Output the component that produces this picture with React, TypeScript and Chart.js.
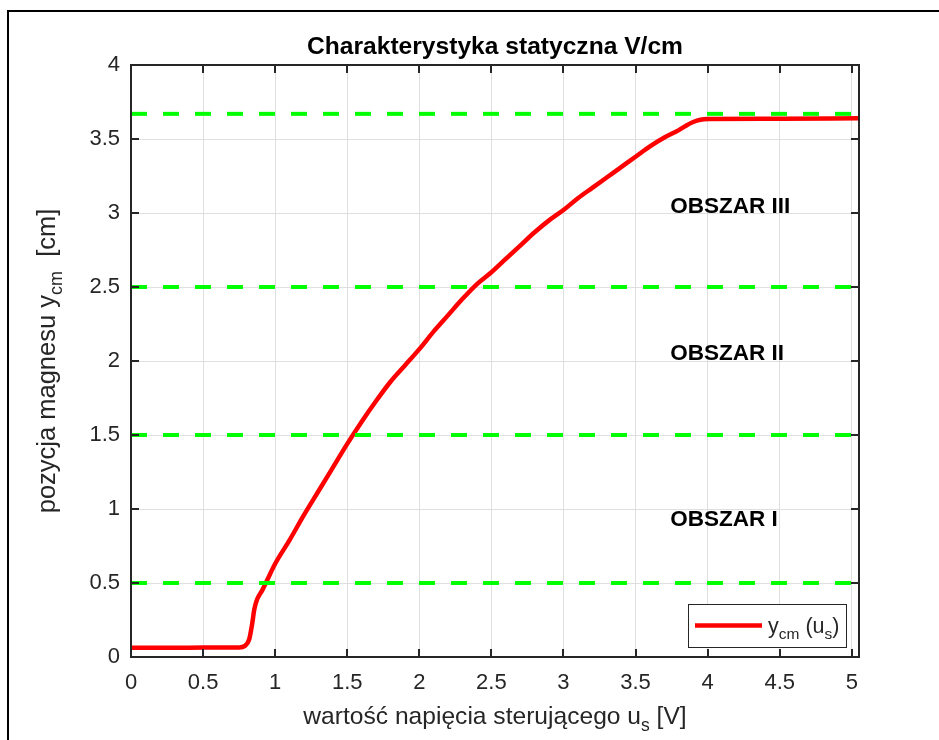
import { useEffect, useRef } from "react";
import { Chart, registerables } from "chart.js";

Chart.register(...registerables);

// Static characteristic: control voltage u_s [V] -> magnet position y_cm [cm]
const voltage = [
  0, 0.2, 0.4, 0.6, 0.75, 0.79, 0.82, 0.84, 0.855, 0.875, 0.91, 0.94, 1.0, 1.1, 1.2, 1.3, 1.4,
  1.5, 1.6, 1.7, 1.8, 1.9, 2.0, 2.1, 2.2, 2.3, 2.4, 2.5, 2.6, 2.7, 2.8, 2.9, 3.0, 3.1, 3.2,
  3.3, 3.4, 3.5, 3.6, 3.7, 3.8, 3.85, 3.9, 3.95, 4.0, 4.5, 5.05,
];
const position = [
  0.063, 0.063, 0.063, 0.064, 0.065, 0.075, 0.12, 0.22, 0.32, 0.39, 0.45, 0.51, 0.63, 0.79,
  0.96, 1.12, 1.28, 1.44, 1.59, 1.73, 1.86, 1.97, 2.08, 2.2, 2.31, 2.42, 2.52, 2.6, 2.69, 2.78,
  2.87, 2.95, 3.02, 3.1, 3.17, 3.24, 3.31, 3.38, 3.45, 3.51, 3.56, 3.59, 3.615, 3.63, 3.635,
  3.637, 3.64,
];

// Region boundaries (dashed green)
const thresholdLevels = [0.5, 1.5, 2.5, 3.67];

// Region captions and their anchor points in data units
const regionNames = ["OBSZAR I", "OBSZAR II", "OBSZAR III"];
const regionLabelX = [3.74, 3.74, 3.74];
const regionLabelY = [0.93, 2.05, 3.04];

// Axis ticks
const xTickValues = [0, 0.5, 1, 1.5, 2, 2.5, 3, 3.5, 4, 4.5, 5];
const yTickValues = [0, 0.5, 1, 1.5, 2, 2.5, 3, 3.5, 4];
const X_MIN = 0;
const X_MAX = 5.05;
const Y_MIN = 0;
const Y_MAX = 4;

const titleText = "Charakterystyka statyczna V/cm";

const FONT = '"Liberation Sans", Arial, Helvetica, sans-serif';
const AXIS_COLOR = "#262626";
const CURVE_COLOR = "#ff0000";
const LEVEL_COLOR = "#00ff00";

type Part = { t: string; sub?: boolean };

function drawRich(
  ctx: CanvasRenderingContext2D,
  parts: Part[],
  x: number,
  y: number,
  size: number,
  subSize: number,
  subShift: number,
  align: "left" | "center"
) {
  const widths = parts.map((p) => {
    ctx.font = `${p.sub ? subSize : size}px ${FONT}`;
    return ctx.measureText(p.t).width;
  });
  const total = widths.reduce((a, b) => a + b, 0);
  let cx = align === "center" ? x - total / 2 : x;
  ctx.textAlign = "left";
  ctx.textBaseline = "alphabetic";
  parts.forEach((p, i) => {
    ctx.font = `${p.sub ? subSize : size}px ${FONT}`;
    ctx.fillText(p.t, cx, p.sub ? y + subShift : y);
    cx += widths[i];
  });
}

const decorations = {
  id: "decorations",
  afterDatasetsDraw(chart: any) {
    const { ctx, chartArea: a, scales } = chart;
    const xs = scales.x;
    const ys = scales.y;
    ctx.save();

    // Region captions
    ctx.fillStyle = "#000";
    ctx.font = `bold 22.5px ${FONT}`;
    ctx.textAlign = "left";
    ctx.textBaseline = "middle";
    regionNames.forEach((name, i) => {
      ctx.fillText(name, xs.getPixelForValue(regionLabelX[i]), ys.getPixelForValue(regionLabelY[i]));
    });

    // Axes box
    ctx.strokeStyle = AXIS_COLOR;
    ctx.lineWidth = 2;
    ctx.strokeRect(a.left, a.top, a.right - a.left, a.bottom - a.top);

    // Inward tick marks on all four sides
    const tl = 8;
    ctx.lineWidth = 2;
    ctx.beginPath();
    xTickValues.forEach((v) => {
      const px = Math.round(xs.getPixelForValue(v));
      ctx.moveTo(px, a.bottom);
      ctx.lineTo(px, a.bottom - tl);
      ctx.moveTo(px, a.top);
      ctx.lineTo(px, a.top + tl);
    });
    yTickValues.forEach((v) => {
      const py = Math.round(ys.getPixelForValue(v));
      ctx.moveTo(a.left, py);
      ctx.lineTo(a.left + tl, py);
      ctx.moveTo(a.right, py);
      ctx.lineTo(a.right - tl, py);
    });
    ctx.stroke();

    // Legend
    const lw = 158;
    const lh = 43;
    const lx = a.right - 13 - lw;
    const ly = a.bottom - 10 - lh;
    ctx.fillStyle = "#fff";
    ctx.fillRect(lx, ly, lw, lh);
    ctx.strokeStyle = AXIS_COLOR;
    ctx.lineWidth = 1;
    ctx.strokeRect(lx + 0.5, ly + 0.5, lw, lh);
    const ds = chart.data.datasets[0];
    ctx.strokeStyle = ds.borderColor;
    ctx.lineWidth = ds.borderWidth;
    ctx.beginPath();
    ctx.moveTo(lx + 7, ly + lh / 2);
    ctx.lineTo(lx + 74, ly + lh / 2);
    ctx.stroke();
    ctx.fillStyle = AXIS_COLOR;
    drawRich(
      ctx,
      [{ t: "y" }, { t: "cm", sub: true }, { t: " (u" }, { t: "s", sub: true }, { t: ")" }],
      lx + 80,
      ly + lh / 2 + 7,
      21.5,
      15.5,
      6,
      "left"
    );

    // Title
    ctx.fillStyle = "#000";
    ctx.font = `bold 24.6px ${FONT}`;
    ctx.textAlign = "center";
    ctx.textBaseline = "alphabetic";
    ctx.fillText(titleText, (a.left + a.right) / 2, 54);

    // Axis titles
    ctx.fillStyle = AXIS_COLOR;
    drawRich(
      ctx,
      [{ t: "wartość napięcia sterującego u" }, { t: "s", sub: true }, { t: " [V]" }],
      (a.left + a.right) / 2,
      724,
      24.6,
      17.5,
      7,
      "center"
    );
    ctx.save();
    ctx.translate(55, (a.top + a.bottom) / 2);
    ctx.rotate(-Math.PI / 2);
    drawRich(
      ctx,
      [{ t: "pozycja magnesu y" }, { t: "cm", sub: true }, { t: "  [cm]" }],
      0,
      0,
      25.5,
      18,
      7,
      "center"
    );
    ctx.restore();

    // Figure frame
    ctx.fillStyle = "#000";
    ctx.fillRect(7, 10, chart.width - 7, 2);
    ctx.fillRect(7, 10, 2, chart.height - 10);

    ctx.restore();
  },
};

export default function App() {
  const canvasRef = useRef<HTMLCanvasElement | null>(null);

  useEffect(() => {
    const canvas = canvasRef.current;
    if (!canvas) return;

    const curve = voltage.map((u, i) => ({ x: u, y: position[i] }));
    const levelSets = thresholdLevels.map((lvl) => ({
      data: [
        { x: X_MIN, y: lvl },
        { x: X_MAX, y: lvl },
      ],
      borderColor: LEVEL_COLOR,
      borderWidth: 4,
      borderDash: [16, 16],
      borderCapStyle: "butt" as const,
      pointRadius: 0,
      order: 1,
    }));

    const chart = new Chart(canvas, {
      type: "line",
      data: {
        datasets: [
          {
            data: curve,
            borderColor: CURVE_COLOR,
            borderWidth: 4.5,
            borderCapStyle: "round",
            borderJoinStyle: "round",
            cubicInterpolationMode: "monotone",
            pointRadius: 0,
            order: 2,
          },
          ...levelSets,
        ],
      },
      options: {
        animation: false,
        responsive: false,
        devicePixelRatio: 1,
        events: [],
        layout: { padding: { top: 65, right: 80, bottom: 0, left: 0 } },
        plugins: {
          legend: { display: false },
          title: { display: false },
          tooltip: { enabled: false },
        },
        scales: {
          x: {
            type: "linear",
            min: X_MIN,
            max: X_MAX,
            afterBuildTicks: (s: any) => {
              s.ticks = xTickValues.map((v) => ({ value: v }));
            },
            afterFit: (s: any) => {
              s.height = 83;
            },
            grid: { color: "#dfdfdf", lineWidth: 1, drawTicks: false },
            border: { display: false },
            ticks: {
              padding: 13,
              maxRotation: 0,
              autoSkip: false,
              color: AXIS_COLOR,
              font: { family: FONT, size: 22 },
              callback: (v: any) => String(v),
            },
          },
          y: {
            type: "linear",
            min: Y_MIN,
            max: Y_MAX,
            afterBuildTicks: (s: any) => {
              s.ticks = yTickValues.map((v) => ({ value: v }));
            },
            afterFit: (s: any) => {
              s.width = 131;
            },
            grid: { color: "#dfdfdf", lineWidth: 1, drawTicks: false },
            border: { display: false },
            ticks: {
              padding: 11,
              autoSkip: false,
              color: AXIS_COLOR,
              font: { family: FONT, size: 22 },
              callback: (v: any) => String(v),
            },
          },
        },
      },
      plugins: [decorations],
    });

    return () => chart.destroy();
  }, []);

  return (
    <div
      style={{
        position: "fixed",
        left: 0,
        top: 0,
        width: 939,
        height: 740,
        background: "#fff",
      }}
    >
      <canvas ref={canvasRef} width={939} height={740} style={{ display: "block" }} />
    </div>
  );
}
